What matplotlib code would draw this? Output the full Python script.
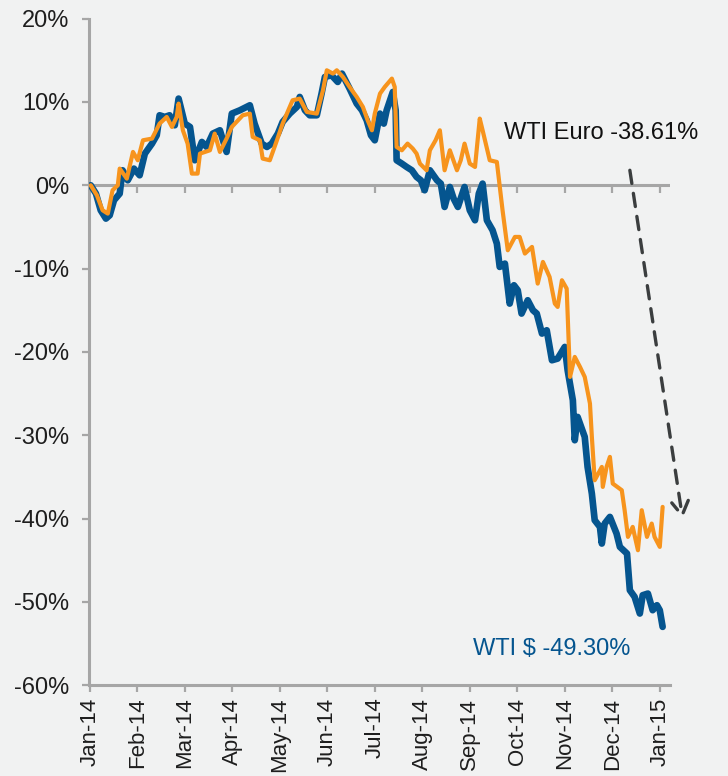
#!/usr/bin/env python3

import matplotlib
matplotlib.use("Agg")
import matplotlib.pyplot as plt

# x positions are months since Jan-14 (category axis, one unit per month)
month_labels = ["Jan-14", "Feb-14", "Mar-14", "Apr-14", "May-14", "Jun-14", "Jul-14",
                "Aug-14", "Sep-14", "Oct-14", "Nov-14", "Dec-14", "Jan-15"]

t_usd = [0.02, 0.13, 0.23, 0.34, 0.42, 0.51, 0.63, 0.69, 0.80, 0.93, 1.05, 1.16, 1.31, 1.41,
         1.47, 1.58, 1.68, 1.79, 1.87, 2.00, 2.11, 2.21, 2.36, 2.46, 2.59, 2.74, 2.88, 2.99,
         3.16, 3.37, 3.47, 3.62, 3.73, 3.83, 3.96, 4.06, 4.21, 4.36, 4.42, 4.53, 4.63, 4.78,
         4.88, 4.95, 5.09, 5.22, 5.31, 5.47, 5.62, 5.73, 5.83, 5.92, 6.00, 6.11, 6.19, 6.25,
         6.38, 6.44, 6.46, 6.57, 6.67, 6.78, 6.88, 6.97, 7.05, 7.16, 7.31, 7.39, 7.47, 7.58,
         7.66, 7.75, 7.89, 8.00, 8.11, 8.19, 8.27, 8.36, 8.48, 8.57, 8.63, 8.74, 8.84, 8.93,
         9.01, 9.09, 9.22, 9.33, 9.41, 9.52, 9.62, 9.73, 9.85, 10.00, 10.06, 10.17, 10.21,
         10.27, 10.42, 10.48, 10.57, 10.63, 10.74, 10.78, 10.84, 10.95, 11.09, 11.16, 11.31,
         11.37, 11.47, 11.58, 11.64, 11.75, 11.85, 11.94, 12.00, 12.06]
wti_usd = [0.0, -1.0, -3.0, -4.0, -3.6, -1.8, -1.0, 1.8, 0.6, 2.0, 1.2, 3.8, 5.0, 6.0,
           8.4, 8.2, 8.4, 7.2, 10.4, 7.4, 7.0, 3.0, 5.2, 4.6, 6.2, 6.6, 4.0, 8.6,
           9.0, 9.6, 7.4, 5.0, 4.6, 5.0, 6.2, 7.6, 8.6, 9.4, 10.6, 9.0, 8.4, 8.4,
           11.0, 13.0, 13.2, 12.4, 13.4, 11.6, 9.8, 9.0, 7.8, 6.0, 5.4, 8.6, 7.4, 9.0,
           11.2, 9.0, 3.0, 2.6, 2.2, 1.8, 1.0, 0.6, -0.6, 1.8, 0.6, 0.2, -2.6, -0.2,
           -1.6, -2.6, -0.2, -3.0, -4.2, -1.0, 0.2, -4.2, -5.4, -7.0, -9.8, -9.4, -14.2, -12.0,
           -12.6, -15.4, -13.8, -15.0, -15.4, -17.8, -17.4, -21.0, -20.8, -19.4, -22.2, -25.8, -30.6,
           -27.8, -30.2, -33.8, -37.0, -40.2, -41.0, -43.0, -40.6, -39.8, -41.8, -43.4, -44.2,
           -48.6, -49.4, -51.4, -49.2, -49.0, -51.0, -50.4, -51.0, -53.0]

t_eur = [0.02, 0.15, 0.27, 0.38, 0.48, 0.59, 0.63, 0.78, 0.91, 1.01, 1.12, 1.31, 1.47, 1.62,
         1.73, 1.83, 1.87, 1.96, 2.06, 2.15, 2.27, 2.32, 2.53, 2.63, 2.74, 2.88, 2.99, 3.22,
         3.37, 3.43, 3.58, 3.64, 3.79, 3.94, 4.06, 4.27, 4.42, 4.57, 4.78, 4.91, 4.99, 5.12,
         5.20, 5.33, 5.47, 5.62, 5.75, 5.85, 5.94, 6.00, 6.11, 6.21, 6.27, 6.36, 6.42, 6.46,
         6.57, 6.69, 6.80, 6.88, 6.95, 7.09, 7.16, 7.28, 7.37, 7.47, 7.58, 7.73, 7.81, 7.89,
         8.00, 8.11, 8.21, 8.27, 8.42, 8.57, 8.69, 8.80, 8.95, 9.05, 9.16, 9.31, 9.43, 9.54,
         9.68, 9.79, 9.85, 9.94, 10.04, 10.11, 10.21, 10.32, 10.42, 10.53, 10.57, 10.63, 10.78,
         10.80, 10.88, 10.95, 11.01, 11.20, 11.26, 11.33, 11.43, 11.54, 11.62, 11.73, 11.83,
         11.89, 12.00, 12.06]
wti_eur = [0.0, -1.2, -3.0, -3.4, -0.6, 0.0, 2.0, 0.8, 4.0, 3.0, 5.4, 5.6, 7.4, 8.2,
           7.0, 8.2, 9.8, 6.6, 5.0, 1.4, 1.4, 3.8, 4.2, 6.2, 4.0, 5.6, 7.0, 8.4,
           8.6, 5.8, 5.4, 3.2, 3.0, 5.4, 7.4, 10.2, 10.4, 8.8, 8.6, 11.4, 13.8, 13.4,
           13.8, 13.0, 11.8, 10.6, 9.4, 7.8, 6.6, 8.6, 11.0, 11.8, 12.2, 12.8, 11.8, 4.6,
           4.2, 5.0, 4.4, 3.8, 2.6, 1.8, 4.2, 5.4, 6.6, 1.8, 4.2, 1.8, 3.0, 5.0,
           2.6, 2.2, 8.0, 6.6, 3.0, 2.8, -3.0, -7.8, -6.2, -6.2, -8.2, -7.4, -11.8, -9.2,
           -11.0, -14.2, -14.6, -11.4, -12.4, -23.0, -20.6, -21.8, -23.0, -26.2, -30.2, -35.4, -33.8,
           -36.2, -33.8, -32.6, -35.8, -36.6, -39.0, -42.2, -41.0, -43.8, -39.0, -42.2, -40.6,
           -42.2, -43.4, -38.6]

bg = "#f1f2f2"
axis_grey = "#a6a6a6"
blue = "#05558f"
orange = "#f7941d"

plt.rcParams["font.family"] = ["Liberation Sans", "DejaVu Sans"]

fig = plt.figure(figsize=(7.28, 7.76), dpi=100, facecolor=bg)
ax = fig.add_axes([0.122, 0.117, 0.798, 0.859], facecolor=bg)

ax.plot(t_usd, wti_usd, color=blue, lw=4.8, solid_joinstyle="round", solid_capstyle="round", zorder=3)
ax.plot(t_eur, wti_eur, color=orange, lw=3.0, solid_joinstyle="round", solid_capstyle="round", zorder=4)

# zero line with its own small month ticks
ax.axhline(0, color=axis_grey, lw=2.2, zorder=2)
for m in range(len(month_labels)):
    ax.plot([m, m], [0, -0.9], color=axis_grey, lw=1.6, zorder=2, solid_capstyle="butt")

ax.set_xlim(-0.02, 12.21)
ax.set_ylim(-60, 20)
ax.set_xticks(range(len(month_labels)))
ax.set_xticklabels(month_labels, rotation=90)
ax.set_yticks(range(-60, 21, 10))
ax.set_yticklabels([f"{v}%" for v in range(-60, 21, 10)])

for side in ["top", "right"]:
    ax.spines[side].set_visible(False)
for side in ["left", "bottom"]:
    ax.spines[side].set_color(axis_grey)
    ax.spines[side].set_linewidth(2.2)
ax.tick_params(axis="both", colors=axis_grey, width=1.6, length=5, labelsize=17,
               labelcolor="#1e1e1e")
ax.tick_params(axis="y", pad=9)
ax.tick_params(axis="x", pad=4, labelsize=16)

ax.text(8.72, 6.3, "WTI Euro -38.61%", fontsize=17, color="#111111", va="center", ha="left")
ax.text(8.06, -55.6, "WTI $ -49.30%", fontsize=17, color=blue, va="center", ha="left")

ax.annotate("", xy=(12.48, -40.0), xytext=(11.37, 1.8), annotation_clip=False,
            arrowprops=dict(arrowstyle="->,head_length=1.0,head_width=0.6", color="#3b3e3f",
                            lw=2.4, linestyle=(0, (4, 3)), shrinkA=0, shrinkB=0))

fig.savefig("out.png", dpi=100, facecolor=bg)
plt.close()
